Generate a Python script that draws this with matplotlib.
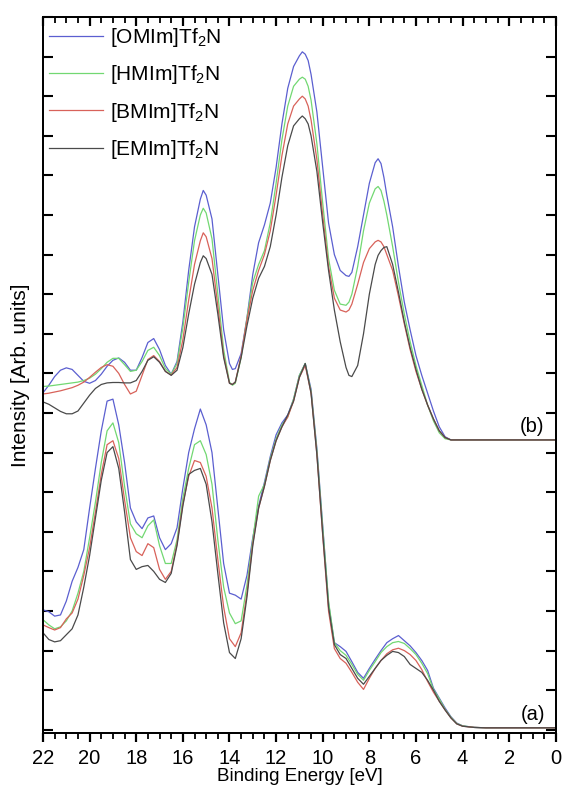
import numpy as np
import matplotlib
matplotlib.use("Agg")
import matplotlib.pyplot as plt
from matplotlib.ticker import MultipleLocator, NullFormatter

plt.rcParams['font.family'] = ['Liberation Sans', 'DejaVu Sans']
plt.rcParams['mathtext.fontset'] = 'custom'
plt.rcParams['mathtext.rm'] = 'Liberation Sans'
plt.rcParams['mathtext.it'] = 'Liberation Sans:italic'

# ---- upper spectra (b): binding energy grid [eV] and intensities
e_b = [22.0, 21.75, 21.5, 21.25, 21.0, 20.75, 20.5, 20.25, 20.0, 19.75, 19.5, 19.25,
       19.0, 18.75, 18.5, 18.25, 18.0, 17.75, 17.5, 17.25, 17.0, 16.75, 16.5, 16.25,
       16.0, 15.75, 15.5, 15.25, 15.125, 15.0, 14.75, 14.5, 14.25, 14.0, 13.875, 13.75,
       13.5, 13.25, 13.0, 12.75, 12.5, 12.25, 12.0, 11.75, 11.5, 11.25, 11.0, 10.875,
       10.75, 10.625, 10.5, 10.25, 10.0, 9.75, 9.5, 9.25, 9.0, 8.875, 8.75, 8.5,
       8.25, 8.0, 7.75, 7.625, 7.5, 7.375, 7.25, 7.0, 6.75, 6.5, 6.25, 6.0,
       5.75, 5.5, 5.25, 5.0, 4.75, 4.5, 0.0]

omim_b = [8.51, 8.70, 8.92, 9.08, 9.14, 9.10, 8.95, 8.80, 8.75, 8.82, 8.98, 9.18,
          9.33, 9.39, 9.28, 9.08, 9.08, 9.40, 9.78, 9.88, 9.60, 9.20, 8.98, 9.30,
          10.3, 11.6, 12.7, 13.4, 13.62, 13.5, 12.9, 11.5, 10.1, 9.25, 9.1, 9.12,
          9.5, 10.4, 11.5, 12.3, 12.75, 13.3, 14.2, 15.3, 16.2, 16.75, 17.02, 17.12,
          17.06, 16.9, 16.55, 15.6, 14.2, 12.8, 12.0, 11.6, 11.47, 11.45, 11.55, 12.2,
          13.0, 13.8, 14.32, 14.42, 14.3, 13.95, 13.5, 12.7, 11.7, 10.8, 10.1, 9.45,
          8.95, 8.5, 8.05, 7.65, 7.4, 7.32, 7.32]

hmim_b = [8.67, 8.68, 8.70, 8.72, 8.74, 8.76, 8.78, 8.82, 8.88, 8.98, 9.12, 9.28,
          9.38, 9.38, 9.22, 9.05, 9.08, 9.30, 9.58, 9.66, 9.45, 9.12, 8.98, 9.25,
          10.15, 11.3, 12.35, 13.0, 13.17, 13.05, 12.4, 11.0, 9.6, 8.78, 8.7, 8.75,
          9.4, 10.4, 11.3, 11.75, 12.1, 12.8, 13.8, 14.9, 15.75, 16.25, 16.43, 16.48,
          16.43, 16.25, 15.9, 14.8, 13.3, 11.9, 11.1, 10.75, 10.72, 10.8, 11.0, 11.7,
          12.6, 13.3, 13.66, 13.72, 13.62, 13.35, 13.0, 12.2, 11.3, 10.5, 9.8, 9.2,
          8.7, 8.2, 7.8, 7.5, 7.35, 7.32, 7.32]

bmim_b = [8.48, 8.50, 8.53, 8.56, 8.60, 8.64, 8.70, 8.78, 8.90, 9.03, 9.15, 9.22,
          9.18, 9.0, 8.72, 8.48, 8.55, 8.95, 9.35, 9.45, 9.30, 9.05, 8.96, 9.15,
          9.85, 10.85, 11.75, 12.35, 12.55, 12.45, 11.9, 10.7, 9.45, 8.75, 8.72, 8.78,
          9.45, 10.35, 11.1, 11.6, 12.0, 12.6, 13.5, 14.5, 15.3, 15.75, 15.93, 16.0,
          15.93, 15.75, 15.4, 14.4, 13.0, 11.7, 10.9, 10.6, 10.55, 10.6, 10.75, 11.25,
          11.8, 12.15, 12.32, 12.36, 12.32, 12.2, 12.0, 11.6, 10.95, 10.25, 9.6, 9.05,
          8.6, 8.2, 7.85, 7.55, 7.38, 7.32, 7.32]

emim_b = [8.28, 8.22, 8.13, 8.04, 7.98, 7.98, 8.05, 8.25, 8.45, 8.62, 8.72, 8.76,
          8.77, 8.77, 8.76, 8.76, 8.82, 9.05, 9.33, 9.42, 9.28, 9.05, 8.95, 9.08,
          9.65, 10.5, 11.25, 11.8, 11.97, 11.9, 11.5, 10.5, 9.4, 8.75, 8.72, 8.78,
          9.4, 10.2, 10.9, 11.4, 11.7, 12.2, 13.0, 13.95, 14.75, 15.25, 15.43, 15.5,
          15.43, 15.3, 15.0, 14.1, 12.8, 11.6, 10.6, 9.8, 9.15, 8.95, 8.92, 9.2,
          10.0, 11.0, 11.75, 11.98, 12.1, 12.18, 12.2, 11.75, 11.05, 10.3, 9.65, 9.1,
          8.6, 8.2, 7.85, 7.55, 7.38, 7.32, 7.32]

# ---- lower spectra (a)
e_a = [22.0, 21.75, 21.5, 21.25, 21.0, 20.75, 20.5, 20.25, 20.0, 19.75, 19.5, 19.25,
       19.0, 18.75, 18.5, 18.25, 18.0, 17.75, 17.5, 17.25, 17.0, 16.75, 16.5, 16.25,
       16.0, 15.75, 15.5, 15.25, 15.0, 14.75, 14.5, 14.25, 14.0, 13.75, 13.5, 13.25,
       13.0, 12.75, 12.5, 12.25, 12.0, 11.75, 11.5, 11.25, 11.0, 10.75, 10.5, 10.25,
       10.0, 9.75, 9.5, 9.25, 9.0, 8.75, 8.5, 8.25, 8.0, 7.75, 7.5, 7.25,
       7.0, 6.75, 6.5, 6.25, 6.0, 5.75, 5.5, 5.25, 5.0, 4.75, 4.5, 4.25,
       4.0, 3.5, 3.0, 0.0]

omim_a = [3.03, 2.98, 2.87, 2.90, 3.25, 3.75, 4.10, 4.55, 5.60, 6.60, 7.55, 8.30,
          8.35, 7.70, 6.75, 5.60, 5.25, 5.08, 5.35, 5.40, 4.85, 4.55, 4.70, 5.10,
          6.10, 7.00, 7.60, 8.10, 7.70, 7.00, 5.60, 4.20, 3.45, 3.40, 3.30, 3.90,
          4.85, 5.65, 6.25, 6.90, 7.45, 7.75, 7.95, 8.35, 8.95, 9.25, 8.60, 7.10,
          5.15, 3.20, 2.20, 2.10, 1.98, 1.72, 1.45, 1.30, 1.55, 1.78, 2.00, 2.20,
          2.30, 2.38, 2.25, 2.12, 1.95, 1.75, 1.50, 1.05, 0.80, 0.55, 0.33, 0.17,
          0.10, 0.06, 0.05, 0.05]

hmim_a = [2.78, 2.65, 2.55, 2.60, 2.75, 3.00, 3.45, 4.00, 4.85, 5.75, 6.75, 7.55,
          7.75, 7.25, 6.15, 5.20, 4.95, 4.85, 5.15, 5.30, 4.65, 4.20, 4.20, 4.80,
          5.85, 6.60, 7.20, 7.30, 6.95, 6.20, 4.80, 3.60, 2.95, 2.68, 2.75, 3.65,
          4.80, 5.90, 6.20, 6.85, 7.35, 7.70, 7.90, 8.35, 8.95, 9.25, 8.55, 7.05,
          5.10, 3.25, 2.20, 2.00, 1.88, 1.65, 1.40, 1.25, 1.50, 1.72, 1.95, 2.10,
          2.20, 2.23, 2.18, 2.05, 1.90, 1.68, 1.42, 1.02, 0.78, 0.52, 0.32, 0.16,
          0.10, 0.06, 0.05, 0.05]

bmim_a = [2.65, 2.58, 2.52, 2.58, 2.80, 2.95, 3.30, 3.90, 4.60, 5.50, 6.45, 7.20,
          7.30, 6.85, 5.80, 4.85, 4.50, 4.40, 4.70, 4.60, 4.05, 3.80, 4.00, 4.70,
          5.70, 6.40, 6.80, 6.75, 6.40, 5.60, 4.30, 3.10, 2.30, 2.10, 2.45, 3.45,
          4.70, 5.60, 6.15, 6.80, 7.30, 7.65, 7.90, 8.30, 8.90, 9.20, 8.50, 6.95,
          4.90, 3.00, 2.05, 1.80, 1.68, 1.45, 1.20, 1.02, 1.30, 1.55, 1.75, 1.92,
          2.02, 2.06, 2.00, 1.90, 1.75, 1.52, 1.22, 0.95, 0.72, 0.50, 0.30, 0.15,
          0.09, 0.06, 0.05, 0.05]

emim_a = [2.45, 2.28, 2.22, 2.25, 2.40, 2.55, 2.90, 3.60, 4.40, 5.35, 6.30, 7.00,
          7.15, 6.60, 5.50, 4.30, 4.05, 4.12, 4.15, 4.00, 3.80, 3.72, 3.95, 4.65,
          5.65, 6.45, 6.55, 6.60, 6.20, 5.25, 3.95, 2.70, 1.95, 1.80, 2.30, 3.35,
          4.65, 5.60, 6.15, 6.80, 7.30, 7.65, 7.95, 8.30, 8.90, 9.25, 8.50, 6.95,
          4.95, 3.10, 2.15, 1.90, 1.80, 1.55, 1.30, 1.15, 1.35, 1.55, 1.75, 1.88,
          1.98, 1.95, 1.85, 1.65, 1.55, 1.45, 1.25, 1.00, 0.72, 0.50, 0.30, 0.15,
          0.09, 0.06, 0.05, 0.05]

labels = ['[OMIm]Tf$_2$N', '[HMIm]Tf$_2$N', '[BMIm]Tf$_2$N', '[EMIm]Tf$_2$N']
colors = ['#5b5fd0', '#72d872', '#d8625a', '#4a4a4a']

fig = plt.figure(figsize=(5.62, 7.90), dpi=100)
ax = fig.add_axes([0.0765, 0.0722, 0.9125, 0.9063])

for yb, ya, lab, c in zip([omim_b, hmim_b, bmim_b, emim_b],
                          [omim_a, hmim_a, bmim_a, emim_a], labels, colors):
    ax.plot(e_b, yb, color=c, lw=0.9, label=lab)
    ax.plot(e_a, ya, color=c, lw=0.9)

ax.set_xlim(22, 0)
ax.set_ylim(-0.08, 18.0)

ax.xaxis.set_major_locator(MultipleLocator(2))
ax.xaxis.set_minor_locator(MultipleLocator(0.5))
ax.yaxis.set_major_locator(MultipleLocator(1))
ax.yaxis.set_major_formatter(NullFormatter())

ax.tick_params(axis='y', which='major', direction='in', length=7, width=1.5,
               left=True, right=True)
ax.tick_params(axis='x', which='major', direction='out', length=6.5, width=1.6,
               top=False, labelsize=14.5, pad=5)
ax.tick_params(axis='x', which='minor', direction='out', length=4, width=1.3, top=False)

# top ticks point inward
top = ax.twiny()
top.set_xlim(ax.get_xlim())
top.xaxis.set_major_locator(MultipleLocator(2))
top.xaxis.set_minor_locator(MultipleLocator(0.5))
top.xaxis.set_major_formatter(NullFormatter())
top.tick_params(axis='x', which='major', direction='in', length=6.5, width=1.6)
top.tick_params(axis='x', which='minor', direction='in', length=4, width=1.3)

for s in list(ax.spines.values()) + list(top.spines.values()):
    s.set_linewidth(1.3)

ax.set_xlabel('Binding Energy [eV]', fontsize=13.5, labelpad=0)
ax.set_ylabel('Intensity [Arb. units]', fontsize=15, labelpad=6)

ax.text(0.5, 7.65, '(b)', fontsize=14.5, ha='right', va='center')
ax.text(0.45, 0.38, '(a)', fontsize=14.5, ha='right', va='center')

ax.legend(loc='upper left', bbox_to_anchor=(0.012, 0.987), frameon=False,
          fontsize=15, handlelength=2.6, handletextpad=0.3, labelspacing=0.68,
          borderpad=0, borderaxespad=0)

fig.savefig('out.png', dpi=100)
